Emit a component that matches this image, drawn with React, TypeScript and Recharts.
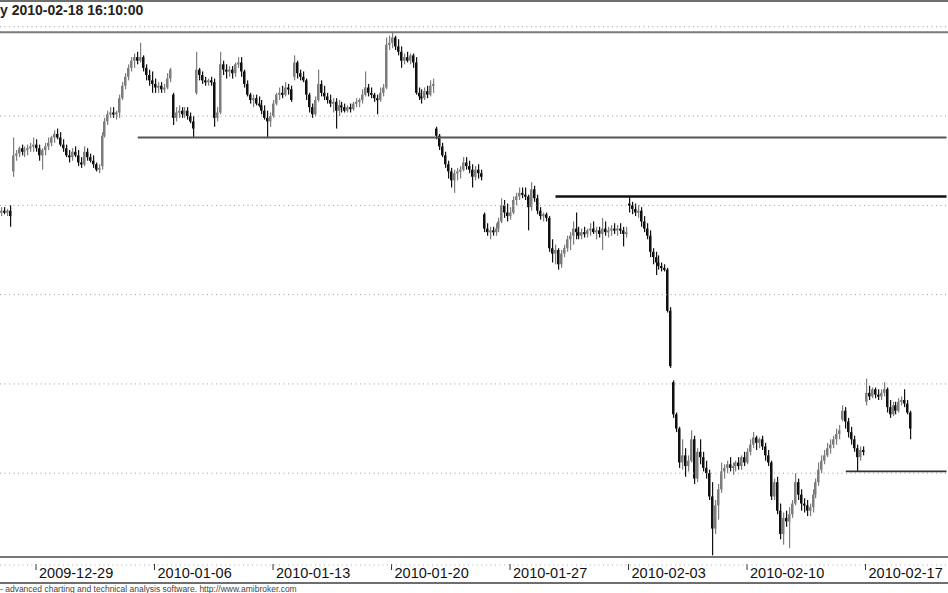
import { ComposedChart, Bar, XAxis, YAxis, ReferenceLine } from "recharts";

// hourly bars, 12-23 (4 bars) then 8 bars per session up to 02-18
const opens = [
  11.46, 11.47, 11.46, 11.47,
  11.69, 11.78, 11.79, 11.82, 11.80, 11.81, 11.82, 11.83,
  11.84, 11.82, 11.78, 11.81, 11.83, 11.85, 11.88, 11.90,
  11.88, 11.84, 11.82, 11.78, 11.77, 11.80, 11.78, 11.74,
  11.73, 11.80, 11.77, 11.75, 11.73, 11.70, 11.72, 11.89,
  11.97, 12.01, 12.02, 12.01, 12.02, 12.10, 12.17, 12.22,
  12.27, 12.31, 12.33, 12.31, 12.33, 12.27, 12.23, 12.20,
  12.18, 12.16, 12.17, 12.15, 12.16, 12.21, 12.12, 11.99,
  12.02, 12.03, 12.01, 12.03, 12.00, 11.97, 12.13, 12.26,
  12.23, 12.20, 12.19, 12.20, 12.19, 11.99, 12.02, 12.29,
  12.26, 12.25, 12.26, 12.24, 12.29, 12.30, 12.25, 12.18,
  12.12, 12.09, 12.10, 12.07, 12.06, 12.03, 11.99, 11.97,
  12.00, 12.07, 12.12, 12.13, 12.12, 12.16, 12.15, 12.22,
  12.30, 12.24, 12.22, 12.20, 12.12, 12.05, 12.01, 12.09,
  12.18, 12.13, 12.11, 12.09, 12.07, 12.08, 12.03, 12.06,
  12.05, 12.03, 12.05, 12.04, 12.07, 12.08, 12.09, 12.12,
  12.16, 12.13, 12.12, 12.10, 12.09, 12.13, 12.16, 12.40,
  12.41, 12.44, 12.39, 12.36, 12.31, 12.33, 12.31, 12.34,
  12.30, 12.13, 12.11, 12.10, 12.14, 12.12, 12.17, 11.93,
  11.89, 11.83, 11.78, 11.73, 11.69, 11.64, 11.68, 11.69,
  11.70, 11.74, 11.72, 11.70, 11.66, 11.70, 11.68, 11.45,
  11.37, 11.35, 11.36, 11.35, 11.37, 11.41, 11.50, 11.46,
  11.44, 11.46, 11.53, 11.55, 11.57, 11.56, 11.55, 11.49,
  11.59, 11.54, 11.47, 11.44, 11.45, 11.43, 11.26, 11.23,
  11.25, 11.17, 11.23, 11.26, 11.31, 11.33, 11.37, 11.35,
  11.33, 11.35, 11.34, 11.36, 11.37, 11.35, 11.36, 11.34,
  11.37, 11.35, 11.36, 11.37, 11.36, 11.37, 11.36, 11.35,
  11.51, 11.50, 11.48, 11.46, 11.47, 11.41, 11.37, 11.33,
  11.24, 11.21, 11.18, 11.16, 11.15, 11.14, 10.91, 10.51,
  10.33, 10.25, 10.06, 10.10, 10.04, 10.07, 10.19, 9.97,
  10.12, 10.09, 10.03, 10.00, 9.87, 9.69, 9.82, 9.91,
  10.01, 10.03, 10.05, 10.03, 10.04, 10.06, 10.04, 10.09,
  10.06, 10.12, 10.16, 10.20, 10.17, 10.19, 10.15, 10.10,
  10.06, 9.87, 9.95, 9.79, 9.66, 9.75, 9.73, 9.77,
  9.83, 9.95, 9.88, 9.83, 9.82, 9.79, 9.81, 9.88,
  9.95, 10.02, 10.07, 10.10, 10.14, 10.16, 10.19, 10.22,
  10.30, 10.35, 10.29, 10.23, 10.19, 10.14, 10.09, 10.13,
  10.40, 10.45, 10.43, 10.47, 10.44, 10.43, 10.45, 10.47,
  10.37, 10.33, 10.38, 10.35, 10.40, 10.41, 10.39, 10.34,
];

const highs = [
  11.49, 11.49, 11.48, 11.50,
  11.88, 11.81, 11.83, 11.84, 11.83, 11.84, 11.85, 11.88,
  11.87, 11.84, 11.82, 11.85, 11.88, 11.89, 11.92, 11.93,
  11.91, 11.87, 11.84, 11.81, 11.82, 11.83, 11.81, 11.77,
  11.83, 11.82, 11.79, 11.78, 11.74, 11.73, 11.91, 11.99,
  12.03, 12.05, 12.05, 12.03, 12.12, 12.19, 12.24, 12.29,
  12.33, 12.35, 12.36, 12.41, 12.34, 12.29, 12.26, 12.25,
  12.21, 12.19, 12.19, 12.18, 12.24, 12.27, 12.13, 12.05,
  12.06, 12.05, 12.05, 12.05, 12.02, 12.00, 12.36, 12.27,
  12.25, 12.22, 12.21, 12.22, 12.21, 12.05, 12.36, 12.31,
  12.29, 12.28, 12.28, 12.30, 12.33, 12.33, 12.26, 12.20,
  12.13, 12.12, 12.12, 12.11, 12.09, 12.06, 12.03, 12.02,
  12.09, 12.13, 12.16, 12.17, 12.19, 12.18, 12.17, 12.34,
  12.31, 12.26, 12.25, 12.21, 12.13, 12.07, 12.11, 12.26,
  12.20, 12.17, 12.13, 12.12, 12.10, 12.10, 12.09, 12.08,
  12.07, 12.06, 12.07, 12.08, 12.10, 12.10, 12.15, 12.25,
  12.18, 12.16, 12.13, 12.12, 12.16, 12.18, 12.44, 12.45,
  12.47, 12.45, 12.43, 12.39, 12.35, 12.36, 12.35, 12.35,
  12.33, 12.16, 12.15, 12.16, 12.17, 12.20, 12.21, 11.94,
  11.90, 11.85, 11.80, 11.75, 11.71, 11.70, 11.71, 11.72,
  11.77, 11.77, 11.75, 11.73, 11.72, 11.73, 11.70, 11.46,
  11.40, 11.38, 11.38, 11.40, 11.43, 11.54, 11.53, 11.51,
  11.49, 11.55, 11.57, 11.60, 11.60, 11.60, 11.56, 11.63,
  11.61, 11.56, 11.49, 11.46, 11.46, 11.44, 11.31, 11.28,
  11.26, 11.25, 11.28, 11.33, 11.35, 11.41, 11.46, 11.38,
  11.37, 11.38, 11.37, 11.40, 11.41, 11.38, 11.38, 11.43,
  11.41, 11.38, 11.39, 11.40, 11.39, 11.40, 11.38, 11.38,
  11.55, 11.52, 11.51, 11.50, 11.49, 11.44, 11.40, 11.36,
  11.26, 11.24, 11.22, 11.18, 11.17, 11.15, 10.93, 10.52,
  10.34, 10.26, 10.19, 10.14, 10.10, 10.24, 10.21, 10.14,
  10.19, 10.12, 10.07, 10.02, 9.95, 9.85, 9.94, 10.06,
  10.05, 10.07, 10.09, 10.06, 10.07, 10.09, 10.10, 10.12,
  10.14, 10.19, 10.23, 10.21, 10.20, 10.21, 10.17, 10.13,
  10.07, 9.97, 9.98, 9.83, 9.78, 9.79, 9.81, 9.85,
  10.00, 9.97, 9.91, 9.86, 9.85, 9.83, 9.91, 9.97,
  10.06, 10.10, 10.13, 10.17, 10.19, 10.21, 10.25, 10.27,
  10.38, 10.37, 10.31, 10.26, 10.21, 10.16, 10.15, 10.15,
  10.53, 10.49, 10.48, 10.48, 10.47, 10.47, 10.51, 10.48,
  10.41, 10.40, 10.40, 10.42, 10.43, 10.47, 10.41, 10.35,
];

const lows = [
  11.44, 11.45, 11.44, 11.38,
  11.66, 11.75, 11.77, 11.78, 11.77, 11.78, 11.80, 11.80,
  11.80, 11.75, 11.70, 11.78, 11.81, 11.83, 11.85, 11.87,
  11.83, 11.80, 11.77, 11.74, 11.75, 11.77, 11.72, 11.71,
  11.72, 11.75, 11.74, 11.71, 11.69, 11.68, 11.70, 11.88,
  11.95, 11.99, 11.99, 11.98, 11.99, 12.09, 12.15, 12.20,
  12.25, 12.27, 12.29, 12.30, 12.25, 12.20, 12.17, 12.13,
  12.13, 12.13, 12.13, 12.13, 12.15, 12.19, 11.95, 11.97,
  11.99, 11.99, 11.99, 11.98, 11.96, 11.88, 12.12, 12.20,
  12.18, 12.17, 12.17, 12.17, 11.94, 11.97, 12.01, 12.23,
  12.21, 12.22, 12.21, 12.22, 12.27, 12.22, 12.16, 12.11,
  12.07, 12.05, 12.06, 12.05, 12.01, 11.98, 11.88, 11.94,
  11.99, 12.06, 12.09, 12.10, 12.11, 12.12, 12.08, 12.20,
  12.21, 12.20, 12.19, 12.09, 12.02, 11.99, 12.00, 12.08,
  12.11, 12.09, 12.07, 12.05, 12.02, 11.93, 12.00, 12.02,
  12.02, 12.02, 12.02, 12.03, 12.05, 12.05, 12.07, 12.11,
  12.11, 12.10, 12.08, 12.01, 12.08, 12.11, 12.15, 12.37,
  12.38, 12.37, 12.34, 12.27, 12.29, 12.30, 12.29, 12.27,
  12.12, 12.09, 12.07, 12.09, 12.10, 12.11, 12.13, 11.87,
  11.81, 11.77, 11.71, 11.65, 11.60, 11.57, 11.64, 11.65,
  11.69, 11.70, 11.68, 11.60, 11.64, 11.65, 11.64, 11.35,
  11.33, 11.31, 11.33, 11.33, 11.35, 11.40, 11.43, 11.41,
  11.42, 11.45, 11.50, 11.53, 11.54, 11.53, 11.36, 11.47,
  11.52, 11.45, 11.42, 11.41, 11.41, 11.24, 11.18, 11.17,
  11.14, 11.15, 11.21, 11.24, 11.25, 11.28, 11.31, 11.31,
  11.31, 11.32, 11.32, 11.33, 11.34, 11.31, 11.32, 11.25,
  11.33, 11.32, 11.33, 11.34, 11.33, 11.34, 11.27, 11.32,
  11.46, 11.45, 11.44, 11.43, 11.38, 11.35, 11.31, 11.21,
  11.17, 11.11, 11.14, 11.13, 11.13, 10.90, 10.59, 10.31,
  10.23, 10.03, 10.02, 9.98, 10.01, 10.06, 9.94, 9.95,
  10.05, 10.01, 9.97, 9.85, 9.54, 9.66, 9.74, 9.89,
  9.97, 10.00, 10.01, 9.99, 10.01, 10.02, 10.02, 10.04,
  10.05, 10.10, 10.14, 10.13, 10.14, 10.13, 10.07, 10.04,
  9.85, 9.85, 9.77, 9.63, 9.60, 9.70, 9.58, 9.75,
  9.82, 9.85, 9.79, 9.78, 9.76, 9.76, 9.78, 9.86,
  9.93, 10.00, 10.05, 10.09, 10.11, 10.14, 10.16, 10.19,
  10.29, 10.25, 10.20, 10.16, 10.12, 10.01, 10.07, 10.10,
  10.38, 10.41, 10.42, 10.42, 10.41, 10.41, 10.43, 10.34,
  10.31, 10.32, 10.33, 10.34, 10.38, 10.37, 10.33, 10.19,
];

const closes = [
  11.47, 11.46, 11.47, 11.44,
  11.78, 11.79, 11.82, 11.80, 11.81, 11.82, 11.83, 11.84,
  11.82, 11.78, 11.81, 11.83, 11.85, 11.88, 11.90, 11.88,
  11.84, 11.82, 11.78, 11.77, 11.80, 11.78, 11.74, 11.73,
  11.80, 11.77, 11.75, 11.73, 11.70, 11.71, 11.89, 11.97,
  12.01, 12.02, 12.01, 12.02, 12.10, 12.17, 12.22, 12.27,
  12.31, 12.33, 12.31, 12.33, 12.27, 12.23, 12.20, 12.18,
  12.16, 12.17, 12.15, 12.16, 12.21, 12.26, 11.99, 12.02,
  12.03, 12.01, 12.03, 12.00, 11.97, 11.93, 12.26, 12.23,
  12.20, 12.19, 12.20, 12.19, 11.99, 12.02, 12.29, 12.26,
  12.25, 12.26, 12.24, 12.29, 12.30, 12.25, 12.18, 12.12,
  12.09, 12.10, 12.07, 12.06, 12.03, 11.99, 11.97, 12.00,
  12.07, 12.12, 12.13, 12.12, 12.16, 12.15, 12.09, 12.30,
  12.24, 12.22, 12.20, 12.12, 12.05, 12.01, 12.09, 12.18,
  12.13, 12.11, 12.09, 12.07, 12.08, 12.03, 12.06, 12.05,
  12.03, 12.05, 12.04, 12.07, 12.08, 12.09, 12.12, 12.16,
  12.13, 12.12, 12.10, 12.09, 12.13, 12.16, 12.40, 12.41,
  12.44, 12.39, 12.36, 12.31, 12.33, 12.31, 12.34, 12.30,
  12.13, 12.11, 12.10, 12.14, 12.12, 12.17, 12.18, 11.89,
  11.83, 11.78, 11.73, 11.69, 11.64, 11.68, 11.69, 11.70,
  11.74, 11.72, 11.70, 11.66, 11.70, 11.68, 11.66, 11.37,
  11.35, 11.36, 11.35, 11.37, 11.41, 11.50, 11.46, 11.44,
  11.46, 11.53, 11.55, 11.57, 11.56, 11.55, 11.49, 11.59,
  11.54, 11.47, 11.44, 11.45, 11.43, 11.26, 11.23, 11.25,
  11.17, 11.23, 11.26, 11.31, 11.33, 11.37, 11.35, 11.33,
  11.35, 11.34, 11.36, 11.37, 11.35, 11.36, 11.34, 11.37,
  11.35, 11.36, 11.37, 11.36, 11.37, 11.36, 11.34, 11.35,
  11.50, 11.48, 11.46, 11.47, 11.41, 11.37, 11.33, 11.24,
  11.21, 11.18, 11.16, 11.15, 11.14, 10.91, 10.60, 10.33,
  10.25, 10.06, 10.10, 10.04, 10.07, 10.19, 9.97, 10.12,
  10.09, 10.03, 10.00, 9.87, 9.69, 9.82, 9.91, 10.01,
  10.03, 10.05, 10.03, 10.04, 10.06, 10.04, 10.09, 10.06,
  10.12, 10.16, 10.20, 10.17, 10.19, 10.15, 10.10, 10.06,
  9.87, 9.95, 9.79, 9.66, 9.75, 9.73, 9.77, 9.83,
  9.95, 9.88, 9.83, 9.82, 9.79, 9.81, 9.88, 9.95,
  10.02, 10.07, 10.10, 10.14, 10.16, 10.19, 10.22, 10.24,
  10.35, 10.29, 10.23, 10.19, 10.14, 10.09, 10.13, 10.12,
  10.45, 10.43, 10.47, 10.44, 10.43, 10.45, 10.47, 10.37,
  10.33, 10.38, 10.35, 10.40, 10.41, 10.39, 10.34, 10.25,
];

const tickBars = [12, 52, 92, 132, 172, 212, 252, 292];
const tickLabels = [
  "2009-12-29",
  "2010-01-06",
  "2010-01-13",
  "2010-01-20",
  "2010-01-27",
  "2010-02-03",
  "2010-02-10",
  "2010-02-17",
];

const gridLevels = [10, 10.5, 11, 11.5, 12, 12.5];

// trend lines drawn on the chart: level, first bar
const topLevel = 12.47;
const levelLines = [
  { y: 11.88, from: 46, color: "#555", width: 2 },
  { y: 11.55, from: 187, color: "#111", width: 2.5 },
  { y: 10.01, from: 285, color: "#333", width: 1.8 },
];

const SLOTS = 320;
const FONT = '"Liberation Sans", Arial, sans-serif';

const rows = Array.from({ length: SLOTS }, (_, i) =>
  i < opens.length
    ? { i, o: opens[i], h: highs[i], l: lows[i], c: closes[i] }
    : { i, o: null, h: null, l: null, c: null }
);

const Candle = (props: any) => {
  const { x, y, width, height, payload } = props;
  if (payload == null || payload.h == null) return null;
  const { o, h, l, c } = payload;
  const span = h - l || 1;
  const py = (v: number) => y + ((h - v) / span) * height;
  const cx = Math.floor(x + width / 2);
  const up = c >= o;
  const color = up ? "#7d7d7d" : "#111";
  const top = py(Math.max(o, c));
  const bot = py(Math.min(o, c));
  return (
    <g>
      <rect x={cx} y={y} width={1.2} height={Math.max(height, 1)} fill={color} />
      <rect x={cx - 1} y={top} width={2.4} height={Math.max(bot - top, 2)} fill={color} />
    </g>
  );
};

const DateTick = (props: any) => {
  const { x, y, payload } = props;
  const label = tickLabels[tickBars.indexOf(payload.value)];
  return (
    <g>
      <line x1={x - 1} x2={x - 1} y1={y + 7} y2={y + 13} stroke="#333" strokeWidth={1} />
      <text x={x + 2} y={y + 21} fontSize={14.5} fontFamily={FONT} fill="#111">
        {label}
      </text>
    </g>
  );
};

export default function App() {
  return (
    <div
      style={{
        position: "absolute",
        left: 0,
        top: 0,
        width: 948,
        height: 593,
        background: "#fff",
        overflow: "hidden",
      }}
    >
      <ComposedChart
        width={948}
        height={593}
        data={rows}
        margin={{ top: 20, right: 0, bottom: 0, left: 0 }}
      >
        <XAxis
          dataKey="i"
          type="category"
          ticks={tickBars}
          interval={0}
          tickLine={false}
          tickSize={0}
          tickMargin={0}
          height={36}
          axisLine={{ stroke: "#777", strokeWidth: 2 }}
          tick={(p: any) => <DateTick {...p} />}
        />
        <YAxis hide type="number" domain={[9.5308, 12.538]} allowDataOverflow />
        {gridLevels.map((v) => (
          <ReferenceLine key={v} y={v} stroke="#9a9a9a" strokeDasharray="1 3.5" />
        ))}
        <ReferenceLine y={topLevel} stroke="#7a7a7a" strokeWidth={2} />
        {levelLines.map((ln) => (
          <ReferenceLine
            key={ln.y}
            segment={[
              { x: ln.from, y: ln.y },
              { x: SLOTS - 1, y: ln.y },
            ]}
            stroke={ln.color}
            strokeWidth={ln.width}
          />
        ))}
        <Bar
          dataKey={(d: any) => (d.h == null ? null : [d.l, d.h])}
          shape={(p: any) => <Candle {...p} />}
          isAnimationActive={false}
        />
      </ComposedChart>
      <svg
        width={948}
        height={593}
        style={{ position: "absolute", left: 0, top: 0, pointerEvents: "none" }}
      >
        <line x1={0} x2={948} y1={1} y2={1} stroke="#6e6e6e" strokeWidth={2} />
        <text x={0} y={15} fontSize={14} fontWeight="bold" fontFamily={FONT} fill="#222">
          y 2010-02-18 16:10:00
        </text>
        <line x1={0} x2={948} y1={565} y2={565} stroke="#aaa" strokeDasharray="1 3.5" />
        <line x1={0} x2={948} y1={583} y2={583} stroke="#6e6e6e" strokeWidth={2} />
        <text x={0} y={592} fontSize={8.5} fontFamily={FONT} fill="#444">
          - advanced charting and technical analysis software. http://www.amibroker.com
        </text>
      </svg>
    </div>
  );
}
